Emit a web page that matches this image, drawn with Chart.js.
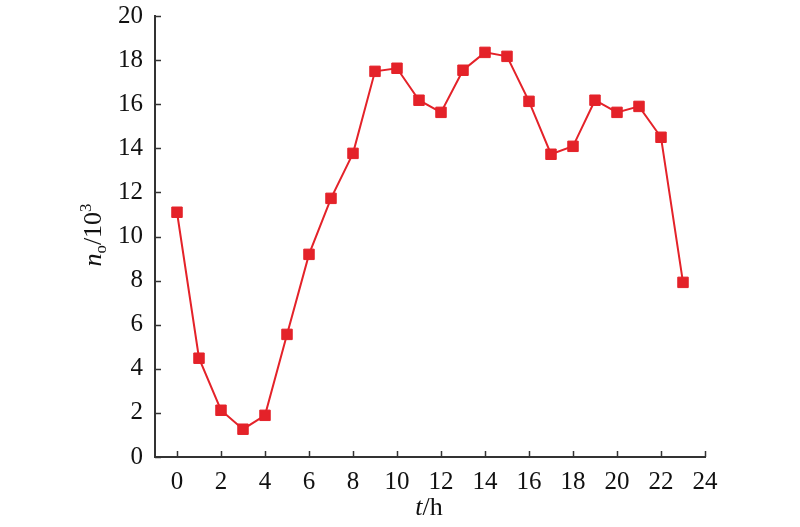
<!DOCTYPE html>
<html>
<head>
<meta charset="utf-8">
<script src="https://cdn.jsdelivr.net/npm/chart.js@4/dist/chart.umd.min.js"></script>
<style>
  html, body { margin: 0; padding: 0; background: #fff; }
  #wrap { width: 800px; height: 527px; position: relative; }
</style>
</head>
<body>
<div id="wrap"><canvas id="grafico"></canvas></div>
<script>
// Datos
const horas = [0, 1, 2, 3, 4, 5, 6, 7, 8, 9, 10, 11, 12, 13, 14, 15, 16, 17, 18, 19, 20, 21, 22, 23];
const valores = [11.1, 4.48, 2.12, 1.26, 1.89, 5.56, 9.19, 11.73, 13.77, 17.49, 17.63, 16.18, 15.63, 17.54, 18.35, 18.17, 16.13, 13.73, 14.09, 16.18, 15.63, 15.9, 14.5, 7.92];
const ticksX = [0, 2, 4, 6, 8, 10, 12, 14, 16, 18, 20, 22, 24];
const ticksY = [0, 2, 4, 6, 8, 10, 12, 14, 16, 18, 20];

const rojo = '#e42229';
const ejeColor = '#333333';
const fuente = '"Liberation Serif", "DejaVu Serif", serif';

// Marcas hacia dentro y títulos de ejes con sub/superíndice
const ejesPlugin = {
    id: 'ejes',
    afterDraw(chart) {
        const ctx = chart.ctx;
        const x = chart.scales.x, y = chart.scales.y;
        const area = chart.chartArea;
        ctx.save();
        ctx.strokeStyle = ejeColor;
        ctx.lineWidth = 1.5;
        ticksX.forEach(v => {
            const px = Math.round(x.getPixelForValue(v)) + 0.5;
            ctx.beginPath();
            ctx.moveTo(px, area.bottom);
            ctx.lineTo(px, area.bottom - 6);
            ctx.stroke();
        });
        ticksY.forEach(v => {
            const py = Math.round(y.getPixelForValue(v)) + 0.5;
            ctx.beginPath();
            ctx.moveTo(area.left, py);
            ctx.lineTo(area.left + 6, py);
            ctx.stroke();
        });

        ctx.fillStyle = '#111';
        ctx.textBaseline = 'alphabetic';
        // Título eje x: t/h
        ctx.font = 'italic 26px ' + fuente;
        const wT = ctx.measureText('t').width;
        ctx.font = '26px ' + fuente;
        const wH = ctx.measureText('/h').width;
        let sx = 429 - (wT + wH) / 2;
        ctx.font = 'italic 26px ' + fuente;
        ctx.fillText('t', sx, 515);
        ctx.font = '26px ' + fuente;
        ctx.fillText('/h', sx + wT, 515);

        // Título eje y: n_o/10^3
        ctx.translate(101, 235);
        ctx.rotate(-Math.PI / 2);
        ctx.font = 'italic 26px ' + fuente;
        const wn = ctx.measureText('n').width;
        ctx.font = '17px ' + fuente;
        const wo = ctx.measureText('o').width;
        ctx.font = '26px ' + fuente;
        const w10 = ctx.measureText('/10').width;
        ctx.font = '17px ' + fuente;
        const w3 = ctx.measureText('3').width;
        let cx = -(wn + wo + w10 + w3) / 2;
        ctx.font = 'italic 26px ' + fuente;
        ctx.fillText('n', cx, 0); cx += wn;
        ctx.font = '17px ' + fuente;
        ctx.fillText('o', cx, 5); cx += wo;
        ctx.font = '26px ' + fuente;
        ctx.fillText('/10', cx, 0); cx += w10;
        ctx.font = '17px ' + fuente;
        ctx.fillText('3', cx, -10);
        ctx.restore();
    }
};

document.addEventListener('DOMContentLoaded', function() {
    const ctx = document.getElementById('grafico').getContext('2d');
    new Chart(ctx, {
        type: 'line',
        data: {
            datasets: [{
                data: horas.map((h, i) => ({ x: h, y: valores[i] })),
                borderColor: rojo,
                backgroundColor: rojo,
                borderWidth: 2,
                pointStyle: 'rect',
                pointRadius: 7.4,
                pointBorderWidth: 1,
                pointBorderColor: rojo,
                pointBackgroundColor: rojo,
                tension: 0
            }]
        },
        options: {
            responsive: true,
            maintainAspectRatio: false,
            animation: false,
            layout: { padding: { left: 0, right: 95, top: 16, bottom: 0 } },
            plugins: { legend: { display: false }, tooltip: { enabled: false } },
            scales: {
                x: {
                    type: 'linear',
                    min: -1,
                    max: 24,
                    afterBuildTicks: s => { s.ticks = ticksX.map(v => ({ value: v })); },
                    afterFit: s => { s.height = 70; s.paddingLeft = 0; s.paddingRight = 0; },
                    grid: { display: false, drawTicks: false },
                    border: { display: true, color: ejeColor, width: 2 },
                    ticks: { color: '#111', font: { family: fuente, size: 25 }, padding: 10, maxRotation: 0, autoSkip: false }
                },
                y: {
                    type: 'linear',
                    min: 0,
                    max: 20,
                    afterBuildTicks: s => { s.ticks = ticksY.map(v => ({ value: v })); },
                    afterFit: s => { s.width = 155; s.paddingTop = 0; s.paddingBottom = 0; },
                    grid: { display: false, drawTicks: false },
                    border: { display: true, color: ejeColor, width: 2 },
                    ticks: { color: '#111', font: { family: fuente, size: 25 }, padding: 12, autoSkip: false }
                }
            }
        },
        plugins: [ejesPlugin]
    });
});
</script>
</body>
</html>
